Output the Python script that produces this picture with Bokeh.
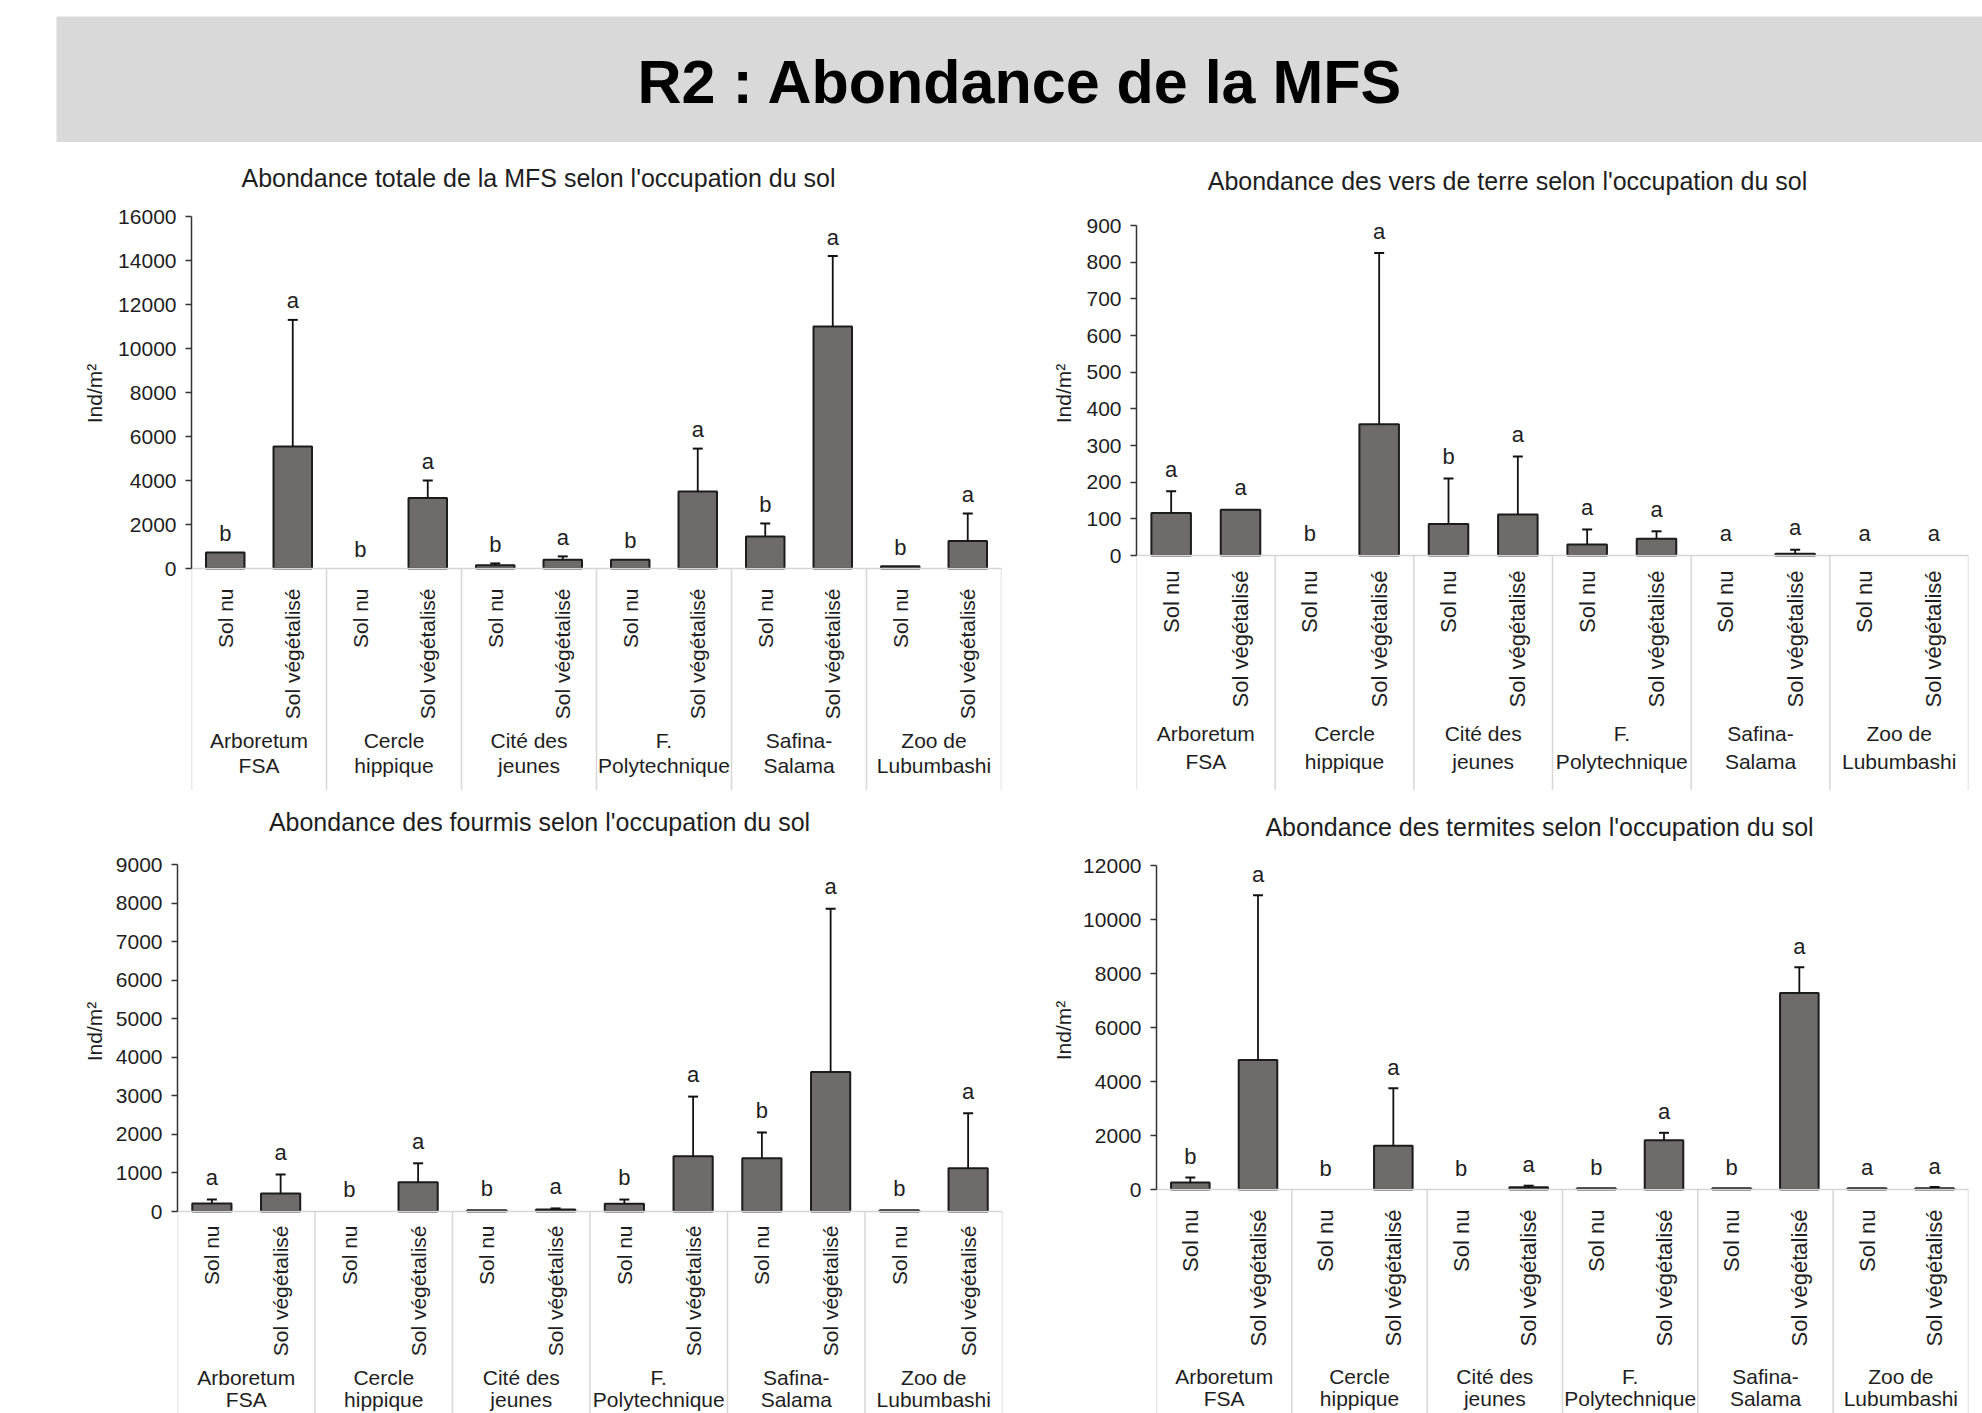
import math
from bokeh.plotting import figure
from bokeh.models import FactorRange, Range1d, FixedTicker, ColumnDataSource
from bokeh.layouts import column, row
from bokeh.embed import file_html
from bokeh.resources import INLINE
from bokeh.core.properties import value

# ---------------- data ----------------
page_title = "R2 : Abondance de la MFS"
sites = ["Arboretum FSA", "Cercle hippique", "Cité des jeunes",
         "F. Polytechnique", "Safina-Salama", "Zoo de Lubumbashi"]
site_line1 = ["Arboretum", "Cercle", "Cité des", "F.", "Safina-", "Zoo de"]
site_line2 = ["FSA", "hippique", "jeunes", "Polytechnique", "Salama", "Lubumbashi"]
soils = ["Sol nu", "Sol végétalisé"]
y_label = "Ind/m²"

# Abondance totale de la MFS
tot_title = "Abondance totale de la MFS selon l'occupation du sol"
tot_nu = [730, 0, 150, 400, 1450, 100]
tot_nu_err = [0, 0, 80, 0, 600, 0]
tot_veg = [5550, 3200, 400, 3500, 11000, 1250]
tot_veg_err = [5750, 800, 150, 1950, 3200, 1250]
tot_let_nu = ["b", "b", "b", "b", "b", "b"]
tot_let_veg = ["a", "a", "a", "a", "a", "a"]
tot_ticks = [0, 2000, 4000, 6000, 8000, 10000, 12000, 14000, 16000]

# Vers de terre
ver_title = "Abondance des vers de terre selon l'occupation du sol"
ver_nu = [116, 0, 86, 30, 0, 0]
ver_nu_err = [59, 0, 124, 41, 0, 0]
ver_veg = [125, 358, 112, 46, 5, 0]
ver_veg_err = [0, 467, 158, 20, 11, 0]
ver_let_nu = ["a", "b", "b", "a", "a", "a"]
ver_let_veg = ["a", "a", "a", "a", "a", "a"]
ver_ticks = [0, 100, 200, 300, 400, 500, 600, 700, 800, 900]

# Fourmis
fou_title = "Abondance des fourmis selon l'occupation du sol"
fou_nu = [210, 0, 30, 200, 1380, 30]
fou_nu_err = [100, 0, 0, 110, 670, 0]
fou_veg = [470, 760, 50, 1430, 3620, 1120]
fou_veg_err = [490, 490, 30, 1550, 4230, 1430]
fou_let_nu = ["a", "b", "b", "b", "b", "b"]
fou_let_veg = ["a", "a", "a", "a", "a", "a"]
fou_ticks = [0, 1000, 2000, 3000, 4000, 5000, 6000, 7000, 8000, 9000]

# Termites
ter_title = "Abondance des termites selon l'occupation du sol"
ter_nu = [260, 0, 0, 50, 50, 50]
ter_nu_err = [180, 0, 0, 0, 0, 0]
ter_veg = [4800, 1620, 80, 1820, 7280, 50]
ter_veg_err = [6100, 2130, 60, 280, 950, 40]
ter_let_nu = ["b", "b", "b", "b", "b", "a"]
ter_let_veg = ["a", "a", "a", "a", "a", "a"]
ter_ticks = [0, 2000, 4000, 6000, 8000, 10000, 12000]

# ---------------- style ----------------
FONT = "Liberation Sans"
TXT = "#1e1e1e"
BAR_FILL = "#6f6b6b"
BAR_LINE = "#1c1c1c"
AXIS_GREY = "#d6d6d6"


def blank_fig(w, h, x0, x1, y0, y1):
    f = figure(width=w, height=h, x_range=Range1d(x0, x1), y_range=Range1d(y0, y1),
               output_backend="svg", toolbar_location=None,
               min_border_left=0, min_border_right=0, min_border_top=0, min_border_bottom=0,
               x_axis_location=None, y_axis_location=None)
    f.outline_line_color = None
    f.xgrid.visible = False
    f.ygrid.visible = False
    return f


def make_block(title, nu, nu_err, veg, veg_err, let_nu, let_veg, ticks, g):
    # g holds page-pixel geometry of the block
    bx, by, bw, bh, T, Y = g["bx"], g["by"], g["bw"], g["bh"], g["T"], g["Y"]
    cw, ch = bw - Y, bh - T
    left = g["fl"] - (bx + Y)
    right = bx + bw - g["fr"]
    top = g["ft"] - (by + T)
    zero = g["fz"] - (by + T)

    # title strip (page coordinates)
    tf = blank_fig(bw, T, bx, bx + bw, -(by + T), -by)
    tf.text(x=[g["tx"]], y=[-g["ty"]], text=[title], text_align="center",
            text_baseline="middle", text_font=value(FONT), text_font_size="25px",
            text_color=TXT)

    # y-label strip (page coordinates)
    yf = blank_fig(Y, ch, bx, bx + Y, -(by + bh), -(by + T))
    yf.text(x=[g["yx"]], y=[-g["yy"]], text=[y_label], angle=math.pi / 2,
            text_align="center", text_baseline="middle", text_font=value(FONT),
            text_font_size="21px", text_color=TXT)

    factors = [(s, soil) for s in sites for soil in soils]
    means, errs, lets = [], [], []
    for i in range(len(sites)):
        means += [nu[i], veg[i]]
        errs += [nu_err[i], veg_err[i]]
        lets += [let_nu[i], let_veg[i]]
    tops = [m + e for m, e in zip(means, errs)]
    ymax = ticks[-1]
    ppu = (zero - top) / ymax
    ymin = -(ch - zero) / ppu
    yend = ymax + top / ppu   # headroom so the frame reaches the top of the figure

    xr = FactorRange(*factors, factor_padding=0, group_padding=0, range_padding=0)
    p = figure(width=cw, height=ch, x_range=xr, y_range=Range1d(ymin, yend),
               output_backend="svg", toolbar_location=None,
               min_border_left=left, min_border_right=right,
               min_border_top=0, min_border_bottom=0)
    p.outline_line_color = None
    p.xgrid.visible = False
    p.ygrid.visible = False

    # separators between site groups, from the category axis down
    nb = len(sites) + 1
    bounds = [len(soils) * i for i in range(nb)]
    p.segment(x0=bounds, x1=bounds, y0=[0] * nb, y1=[ymin] * nb,
              line_color=AXIS_GREY, line_width=1.5)

    # bars
    bsrc = ColumnDataSource(dict(x=[f for f, m in zip(factors, means) if m > 0],
                                 top=[m for m in means if m > 0]))
    p.vbar(x="x", top="top", width=0.57, source=bsrc,
           fill_color=BAR_FILL, line_color=BAR_LINE, line_width=2)

    # error bars (upper only)
    esrc = ColumnDataSource(dict(
        x=[f for f, e in zip(factors, errs) if e > 0],
        y0=[m for m, e in zip(means, errs) if e > 0],
        y1=[t for t, e in zip(tops, errs) if e > 0]))
    p.segment(x0="x", y0="y0", x1="x", y1="y1", source=esrc,
              line_color="#111111", line_width=1.8)
    p.scatter(x="x", y="y1", source=esrc, marker="dash", size=10,
              line_color="#111111", line_width=2)

    # significance letters
    lsrc = ColumnDataSource(dict(x=factors, y=tops, t=lets))
    p.text(x="x", y="y", text="t", source=lsrc, y_offset=-g["let"],
           text_align="center", text_baseline="middle",
           text_font=value(FONT), text_font_size="22px", text_color=TXT)

    # site labels (two lines)
    n = len(sites)
    for txt, off in ((site_line1, g["g1"]), (site_line2, g["g2"])):
        p.text(x=sites, y=[0] * n, text=txt, y_offset=off,
               text_align="center", text_baseline="middle",
               text_font=value(FONT), text_font_size="21px", text_color=TXT)

    # category axis (soil type labels)
    xa = p.xaxis[0]
    xa.fixed_location = 0
    xa.axis_line_color = AXIS_GREY
    xa.axis_line_width = 1.5
    xa.major_tick_line_color = None
    xa.minor_tick_line_color = None
    xa.separator_line_color = None
    xa.group_text_color = None
    xa.group_text_font_size = "1px"
    xa.major_label_orientation = math.pi / 2
    xa.major_label_standoff = g["std"]
    xa.major_label_text_font = FONT
    xa.major_label_text_font_size = g["sub"]
    xa.major_label_text_color = TXT

    # value axis
    ya = p.yaxis[0]
    ya.bounds = (0, ymax)
    ya.ticker = FixedTicker(ticks=ticks)
    ya.axis_line_color = "#333333"
    ya.axis_line_width = 1.5
    ya.major_tick_line_color = "#333333"
    ya.major_tick_line_width = 1.5
    ya.major_tick_out = 6
    ya.major_tick_in = 0
    ya.minor_tick_line_color = None
    ya.major_label_standoff = 9
    ya.major_label_text_font = FONT
    ya.major_label_text_font_size = "21px"
    ya.major_label_text_color = TXT

    return column(tf, row(yf, p))


# header band (page coordinates)
hdr = blank_fig(1982, 142, 0, 1982, -142, 0)
hdr.quad(left=[56], right=[1982], top=[-16], bottom=[-142],
         fill_color="#d9d9d9", line_color=None)
hdr.text(x=[1020], y=[-81], text=[page_title],
         text_align="center", text_baseline="middle",
         text_font=value("'Liberation Sans Narrow', 'Arial Narrow', 'Liberation Sans'"),
         text_font_style="bold", text_font_size="61px", text_color="#000000")

g1 = dict(bx=0, by=142, bw=1016, bh=648, T=56, Y=113,
          fl=191, fr=1001, ft=216, fz=568, tx=538, ty=177, yx=94, yy=393,
          let=19, std=14, g1=172, g2=197, sub="21px")
g2 = dict(bx=1016, by=142, bw=966, bh=648, T=56, Y=60,
          fl=1136, fr=1968, ft=225, fz=555, tx=1507, ty=180, yx=1063, yy=393,
          let=22, std=9, g1=178, g2=206, sub="22px")
g3 = dict(bx=0, by=790, bw=1016, bh=623, T=56, Y=105,
          fl=177, fr=1002, ft=864, fz=1211, tx=539, ty=821, yx=94, yy=1031,
          let=22, std=8, g1=166, g2=188, sub="21px")
g4 = dict(bx=1016, by=790, bw=966, bh=623, T=56, Y=60,
          fl=1156, fr=1968, ft=865, fz=1189, tx=1539, ty=826, yx=1063, yy=1030,
          let=21, std=14, g1=187, g2=209, sub="22px")

b1 = make_block(tot_title, tot_nu, tot_nu_err, tot_veg, tot_veg_err, tot_let_nu, tot_let_veg, tot_ticks, g1)
b2 = make_block(ver_title, ver_nu, ver_nu_err, ver_veg, ver_veg_err, ver_let_nu, ver_let_veg, ver_ticks, g2)
b3 = make_block(fou_title, fou_nu, fou_nu_err, fou_veg, fou_veg_err, fou_let_nu, fou_let_veg, fou_ticks, g3)
b4 = make_block(ter_title, ter_nu, ter_nu_err, ter_veg, ter_veg_err, ter_let_nu, ter_let_veg, ter_ticks, g4)

layout = column(hdr, row(b1, b2), row(b3, b4))
open("out.html", "w").write(file_html(layout, INLINE))
